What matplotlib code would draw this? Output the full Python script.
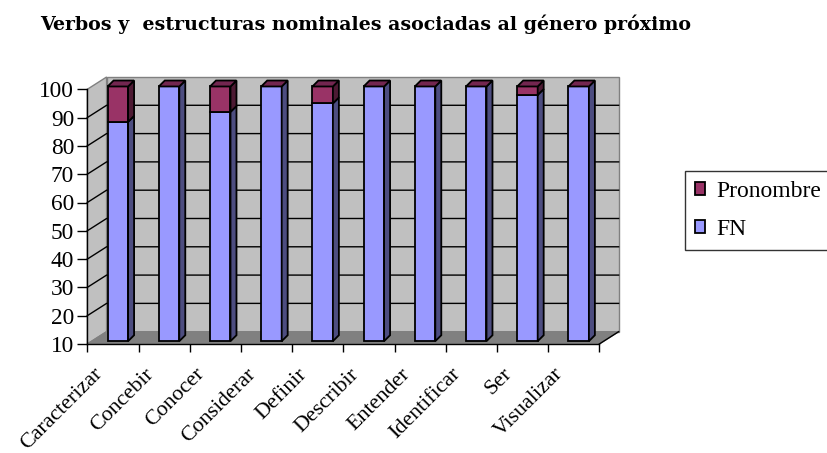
import numpy as np
import matplotlib
matplotlib.use('Agg')
import matplotlib.pyplot as plt
from matplotlib.patches import Polygon, Patch
from matplotlib.transforms import ScaledTranslation

plt.rcParams['font.family'] = ['Liberation Serif', 'DejaVu Serif']

# ---------------------------------------------------------------- data
categories = ['Caracterizar', 'Concebir', 'Conocer', 'Considerar', 'Definir',
              'Describir', 'Entender', 'Identificar', 'Ser', 'Visualizar']
fn = [87.5, 100, 91, 100, 94, 100, 100, 100, 97, 100]
pronombre = [12.5, 0, 9, 0, 6, 0, 0, 0, 3, 0]
yticks = [10, 20, 30, 40, 50, 60, 70, 80, 90, 100]
title = 'Verbos y  estructuras nominales asociadas al género próximo'

# ---------------------------------------------------------------- style
fn_front, fn_side = '#9999ff', '#4d4d80'
pr_front, pr_side, pr_top = '#993366', '#4d1a33', '#732650'
wall_c, floor_c, edge_c = '#c0c0c0', '#808080', '#808080'

y0, y1 = yticks[0], yticks[-1]
n = len(categories)
wall_dx, wall_dy = 0.377, 4.35      # depth of the box (category units, value units)
bar_dx, bar_dy = 0.117, 2.1         # depth of each column
zx, zy = 0.23 * wall_dx, 0.23 * wall_dy   # columns sit a bit behind the front edge
bar_w = 0.4

fig = plt.figure(figsize=(8.27, 4.53), dpi=100)
ax = fig.add_axes([87.3 / 827, 109 / 453, 512 / 827, 254.7 / 453])
ax.set_xlim(0, n)
ax.set_ylim(y0, y1)
ax.patch.set_visible(False)

# walls and floor
back = Polygon([(wall_dx, y0 + wall_dy), (n + wall_dx, y0 + wall_dy),
                (n + wall_dx, y1 + wall_dy), (wall_dx, y1 + wall_dy)],
               fc=wall_c, ec=edge_c, lw=1, clip_on=False, zorder=0)
left_wall = Polygon([(0, y0), (wall_dx, y0 + wall_dy), (wall_dx, y1 + wall_dy), (0, y1)],
                    fc=wall_c, ec=edge_c, lw=1, clip_on=False, zorder=0)
floor = Polygon([(0, y0), (n, y0), (n + wall_dx, y0 + wall_dy), (wall_dx, y0 + wall_dy)],
                fc=floor_c, ec=floor_c, lw=1, clip_on=False, zorder=0.5)
for p in (back, left_wall, floor):
    ax.add_patch(p)

for v in yticks[1:-1]:
    ax.plot([0, wall_dx, n + wall_dx], [v, v + wall_dy, v + wall_dy],
            color='black', lw=1, clip_on=False, zorder=1)
ax.plot([n, n + wall_dx], [y0, y0 + wall_dy], color='black', lw=1, clip_on=False, zorder=3)


def side_face(x, lo, hi, color):
    pts = [(x, lo), (x + bar_dx, lo + bar_dy), (x + bar_dx, hi + bar_dy), (x, hi)]
    ax.add_patch(Polygon(pts, fc=color, ec='black', lw=1.3, clip_on=False, zorder=4))


def top_face(x, top, color):
    pts = [(x, top), (x + bar_w, top), (x + bar_w + bar_dx, top + bar_dy), (x + bar_dx, top + bar_dy)]
    ax.add_patch(Polygon(pts, fc=color, ec='black', lw=1.3, clip_on=False, zorder=4))


# stacked columns
lefts = np.arange(n) + 0.31 + zx
for i in range(n):
    x = lefts[i]
    base = y0 + zy
    mid = fn[i] + zy
    top = fn[i] + pronombre[i] + zy
    ax.bar(x, fn[i] - y0, bottom=base, width=bar_w, align='edge',
           color=fn_front, edgecolor='black', lw=1.3, clip_on=False, zorder=4)
    side_face(x + bar_w, base, mid, fn_side)
    if pronombre[i] > 0:
        ax.bar(x, pronombre[i], bottom=mid, width=bar_w, align='edge',
               color=pr_front, edgecolor='black', lw=1.3, clip_on=False, zorder=4)
        side_face(x + bar_w, mid, top, pr_side)
    top_face(x, top, pr_top)

# axes
for s in ('top', 'right'):
    ax.spines[s].set_visible(False)
for s in ('left', 'bottom'):
    ax.spines[s].set_color('black')
    ax.spines[s].set_linewidth(1)
    ax.spines[s].set_zorder(3)

ax.set_yticks(yticks)
ax.tick_params(axis='y', direction='out', length=7.5, width=1, pad=2, labelsize=16.8)
ax.set_xticks(np.arange(n) + 0.5)
ax.set_xticklabels(categories, rotation=45, ha='right', va='baseline', rotation_mode='anchor')
ax.tick_params(axis='x', which='major', length=0, pad=22, labelsize=15.8)
shift = ScaledTranslation(-10 / 100, 0, fig.dpi_scale_trans)
for lab in ax.get_xticklabels():
    lab.set_transform(lab.get_transform() + shift)
ax.set_xticks(np.arange(n + 1), minor=True)
ax.tick_params(axis='x', which='minor', direction='out', length=5.5, width=1)

# legend
handles = [Patch(fc=pr_front, ec='black', lw=1.3), Patch(fc=fn_front, ec='black', lw=1.3)]
leg = fig.legend(handles, ['Pronombre', 'FN'], loc='upper left',
                 bbox_to_anchor=(685 / 827, 1 - 171 / 453), bbox_transform=fig.transFigure,
                 borderaxespad=0, frameon=True, fancybox=False, fontsize=17,
                 handlelength=0.42, handleheight=0.42, handletextpad=0.5,
                 labelspacing=0.72, borderpad=0.42)
leg.get_frame().set_edgecolor('black')
leg.get_frame().set_linewidth(1)

fig.text(40 / 827, 1 - 29.5 / 453, title, family='DejaVu Serif', fontsize=13.7,
         fontweight='bold', ha='left', va='baseline')

fig.savefig('out.png', dpi=100)
